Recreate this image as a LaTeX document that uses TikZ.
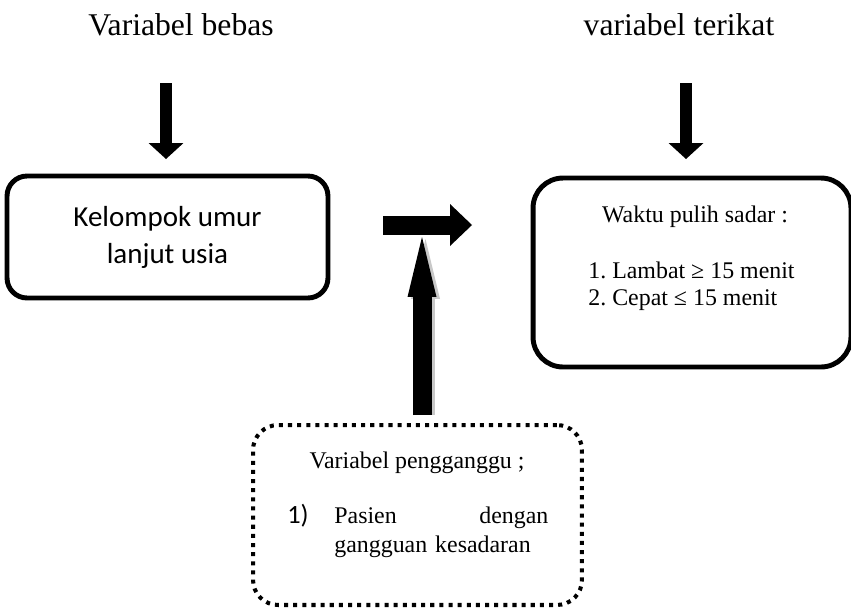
\documentclass[tikz,border=0pt]{standalone}
\usepackage{fontspec}
\setmainfont{Liberation Serif}
\newfontfamily\carlito{Carlito}
\usepackage{xcolor}
\usepackage{tikz}
\usetikzlibrary{
    arrows.meta,
    positioning,
    calc
}
\frenchspacing
\definecolor{kpshadow}{HTML}{C8C8C8}
\tikzset{
    % Column heading
    headtext/.style={
        font=\fontsize{18}{22}\selectfont,
        inner sep=0pt
    },
    % Solid variable box
    varbox/.style={
        rectangle,
        rounded corners=#1,
        draw=black,
        line width=2.8pt,
        fill=white,
        align=center,
        inner sep=0pt
    },
    varbox/.default=0.4cm,
    % Dotted box for the confounder
    dotbox/.style={
        rectangle,
        rounded corners=0.5cm,
        draw=black,
        line width=2.3pt,
        dash pattern=on 2.3pt off 2.9pt,
        fill=white,
        inner sep=0pt
    },
    % Body text
    bodytext/.style={
        font=\fontsize{13.6}{17}\selectfont,
        inner sep=0pt
    },
    % Block arrow: shaft width, head width, head length
    blockarrow/.style n args={3}{
        line width=#1,
        -{Triangle[width=#2, length=#3, line width=0pt]}
    }
}

\begin{document}
\begin{tikzpicture}[x=0.02cm, y=-0.02cm]
    \useasboundingbox (0,0) rectangle (851,609);

    % Headings
    \node[headtext, anchor=base] (bebas) at (181,35) {Variabel bebas};
    \node[headtext, anchor=base] (terikat) at (679,35) {variabel terikat};

    % Independent variable
    \node[varbox, minimum width=6.42cm, minimum height=2.44cm,
        font=\carlito\fontsize{16.5}{21}\selectfont] (usia) at (167.5,237)
        {Kelompok umur\\lanjut usia};

    % Dependent variable
    \node[varbox=0.6cm, minimum width=6.36cm, minimum height=3.78cm] (pulih) at (692,272.5) {};
    \node[bodytext, anchor=base] (pulihjudul) at (695,222) {Waktu pulih sadar :};
    \node[bodytext, anchor=base west] (lambat) at (588,278) {1. Lambat ≥ 15 menit};
    \node[bodytext, anchor=base west] (cepat) at (588,305) {2. Cepat ≤ 15 menit};

    % Confounder
    \node[dotbox, minimum width=6.58cm, minimum height=3.6cm] (ganggu) at (417.5,515) {};
    \node[bodytext, anchor=base] (gangjudul) at (417,468) {Variabel pengganggu ;};
    \node[inner sep=0pt, anchor=base west, font=\carlito\fontsize{15}{17}\selectfont] (no1) at (287,523) {1)};
    \node[bodytext, anchor=base west, text width=4.28cm, align=left] (pasien) at (334,523)
        {Pasien\hfill dengan\\gangguan kesadaran};

    % Arrows
    \coordinate (bebasA) at (166,83);
    \coordinate (bebasB) at (166,159);
    \coordinate (terikatA) at (686,83);
    \coordinate (terikatB) at (686,159);
    \coordinate (tengahA) at (383,225);
    \coordinate (tengahB) at (472,225);
    \coordinate (naikA) at (422,415);
    \coordinate (naikB) at (422,237);

    \draw[blockarrow={0.24cm}{0.7cm}{0.32cm}] (bebasA) -- (bebasB);
    \draw[blockarrow={0.24cm}{0.7cm}{0.32cm}] (terikatA) -- (terikatB);
    \draw[blockarrow={0.38cm}{0.84cm}{0.44cm}] (tengahA) -- (tengahB);
    \draw[blockarrow={0.38cm}{0.58cm}{1.2cm}, kpshadow] ([xshift=0.07cm]naikA) -- ([xshift=0.07cm, yshift=-0.04cm]naikB);
    \draw[blockarrow={0.38cm}{0.58cm}{1.2cm}] (naikA) -- (naikB);

\end{tikzpicture}
\end{document}
